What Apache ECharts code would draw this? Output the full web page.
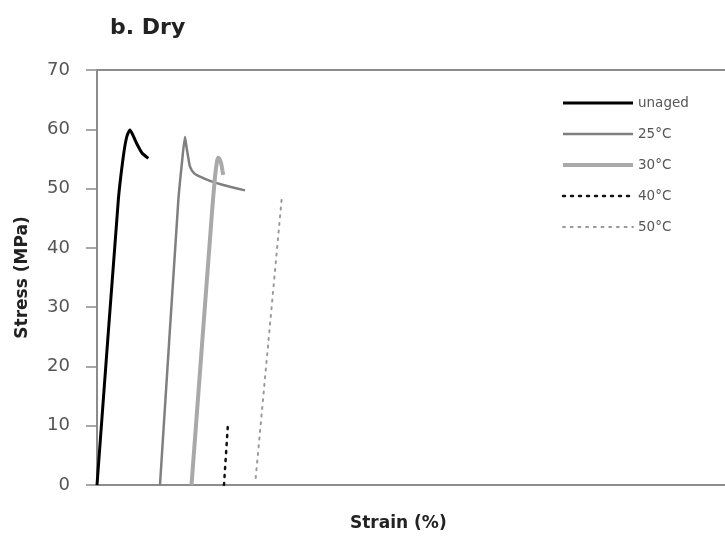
<!DOCTYPE html>
<html>
<head>
<meta charset="utf-8">
<script src="https://cdn.jsdelivr.net/npm/echarts@6/dist/echarts.min.js"></script>
<style>html,body{margin:0;padding:0;background:#fff}#c{width:725px;height:541px}</style>
</head>
<body>
<div id="c"></div>
<script>
const yTicks = [0, 10, 20, 30, 40, 50, 60, 70];
const seriesNames = ['unaged', '25°C', '30°C', '40°C', '50°C'];

const unagedStrain = [0, 3.39, 4.19, 4.73, 5.25, 5.73, 6.32, 7.17, 8.17];
const unagedStress = [0, 48, 55.4, 58.7, 59.9, 59, 57.6, 56, 55.1];

const c25Strain = [10.03, 12.95, 13.54, 14.01, 14.25, 14.49, 14.81, 15.45, 16.40, 17.99, 20.11, 23.57];
const c25Stress = [0, 48, 54.5, 58.7, 57, 55.5, 53.7, 52.6, 52, 51.3, 50.6, 49.7];

const c30Strain = [15.05, 18.31, 18.79, 19.11, 19.32, 19.59, 19.82, 19.98, 20.11];
const c30Stress = [0, 46, 52, 54.6, 55.2, 54.8, 54, 53, 52.3];

const c40Strain = [20.22, 20.86];
const c40Stress = [0, 10.4];

const c50Strain = [25.27, 29.41];
const c50Stress = [1.2, 48.3];

const zip = (xs, ys) => xs.map((x, i) => [x, ys[i]]);

const styles = [
  {color: '#000000', width: 3, type: 'solid'},
  {color: '#7f7f7f', width: 2.5, type: 'solid'},
  {color: '#a9a9a9', width: 4, type: 'solid'},
  {color: '#111111', width: 2.5, type: [2, 6]},
  {color: '#9a9a9a', width: 2, type: [2, 5.7]}
];
const datas = [
  zip(unagedStrain, unagedStress),
  zip(c25Strain, c25Stress),
  zip(c30Strain, c30Stress),
  zip(c40Strain, c40Stress),
  zip(c50Strain, c50Stress)
];

const chart = echarts.init(document.getElementById('c'), null, {renderer: 'canvas'});
const font = '"DejaVu Sans", "Noto Sans", sans-serif';
const lineStyleOf = i => ({color: styles[i].color, width: styles[i].width, type: styles[i].type, cap: i >= 3 ? 'round' : 'butt'});
chart.setOption({
  animation: false,
  textStyle: {fontFamily: font},
  grid: {left: 97, right: 0, top: 70, bottom: 56, containLabel: false, outerBoundsMode: 'none'},
  xAxis: [{
    type: 'value', min: 0, max: 100,
    axisLine: {show: true, lineStyle: {color: '#8c8c8c', width: 2}},
    axisTick: {show: false}, axisLabel: {show: false}, splitLine: {show: false}
  }, {
    type: 'value', min: 0, max: 100, position: 'top',
    axisLine: {show: true, lineStyle: {color: '#8c8c8c', width: 2}},
    axisTick: {show: false}, axisLabel: {show: false}, splitLine: {show: false}
  }],
  yAxis: {
    type: 'value', min: yTicks[0], max: yTicks[yTicks.length - 1], interval: 10,
    name: 'Stress (MPa)', nameLocation: 'middle', nameGap: 66, nameRotate: 90,
    nameTextStyle: {fontSize: 17, fontWeight: 'bold', color: '#222', fontFamily: font},
    axisLine: {show: true, lineStyle: {color: '#8c8c8c', width: 2}},
    axisTick: {show: true, length: 11, lineStyle: {color: '#8c8c8c', width: 1.5}},
    axisLabel: {margin: 27, fontSize: 18, color: '#555', fontFamily: font},
    splitLine: {show: false}
  },
  legend: {
    orient: 'vertical', left: 556, top: 91,
    itemWidth: 70, itemHeight: 16, itemGap: 17,
    itemStyle: {opacity: 0},
    textStyle: {fontSize: 13.5, color: '#555', fontFamily: font},
    data: seriesNames.map((n, i) => ({name: n, lineStyle: lineStyleOf(i), itemStyle: {opacity: 0}}))
  },
  graphic: [
    {type: 'text', left: 110, top: 17, style: {text: 'b. Dry', font: 'bold 22px ' + font, fill: '#222'}},
    {type: 'text', left: 350, top: 515, style: {text: 'Strain (%)', font: 'bold 17px ' + font, fill: '#222'}}
  ],
  series: seriesNames.map((n, i) => ({
    name: n, type: 'line', data: datas[i], showSymbol: false, symbol: 'none',
    smooth: i < 3 ? 0.2 : false,
    lineStyle: lineStyleOf(i),
    itemStyle: {color: styles[i].color}
  }))
});
</script>
</body>
</html>
